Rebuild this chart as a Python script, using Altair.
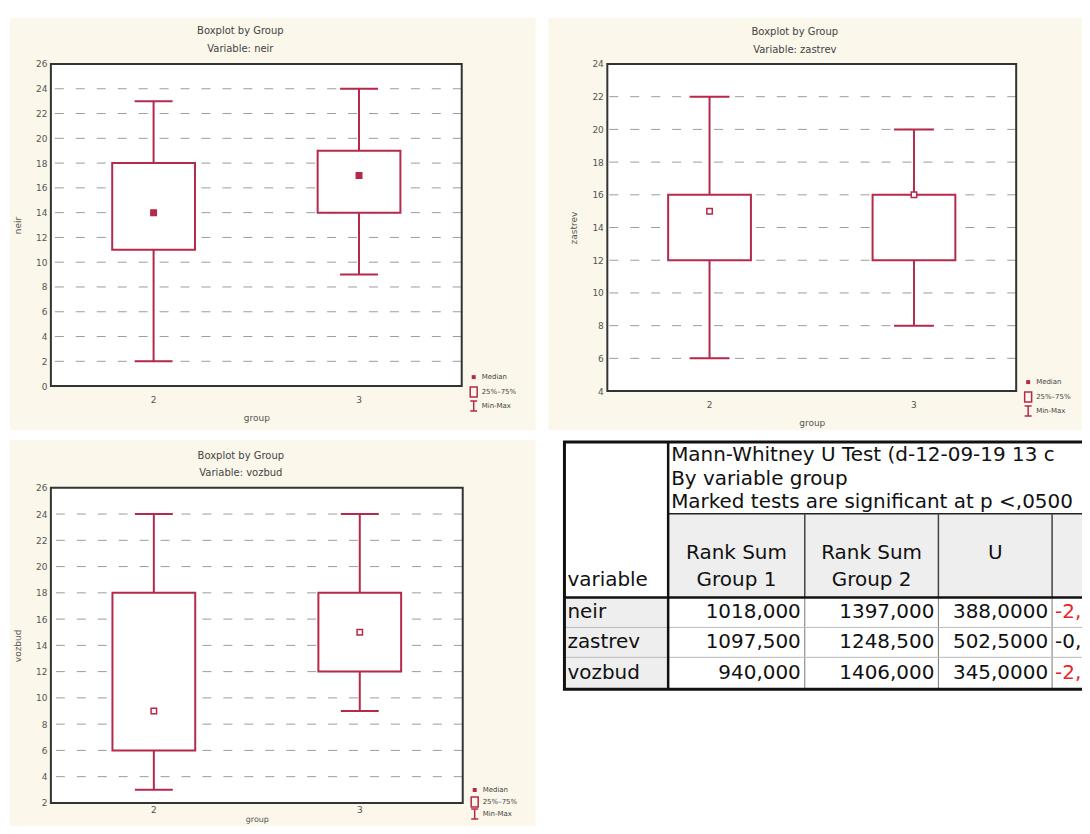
import altair as alt
import pandas as pd

# ---------------- data ----------------
groups = ["2", "3"]

neir_min = [2, 9]
neir_q1 = [11, 14]
neir_median = [14, 17]
neir_q3 = [18, 19]
neir_max = [23, 24]

zastrev_min = [6, 8]
zastrev_q1 = [12, 12]
zastrev_median = [15, 16]
zastrev_q3 = [16, 16]
zastrev_max = [22, 20]

vozbud_min = [3, 9]
vozbud_q1 = [6, 12]
vozbud_median = [9, 15]
vozbud_q3 = [18, 18]
vozbud_max = [24, 24]

neir_ticks = [0, 2, 4, 6, 8, 10, 12, 14, 16, 18, 20, 22, 24, 26]
zastrev_ticks = [4, 6, 8, 10, 12, 14, 16, 18, 20, 22, 24]
vozbud_ticks = [2, 4, 6, 8, 10, 12, 14, 16, 18, 20, 22, 24, 26]

plot_title = "Boxplot by Group"
x_title = "group"
legend_labels = ["Median", "25%–75%", "Min-Max"]

table_title_lines = [
    "Mann-Whitney U Test (d-12-09-19 13 c",
    "By variable group",
    "Marked tests are significant at p <,0500",
]
header_top = ["Rank Sum", "Rank Sum", "U"]
header_bottom = ["Group 1", "Group 2", ""]
stub_header = "variable"
row_vars = ["neir", "zastrev", "vozbud"]
rank_sum_g1 = [1018.0, 1097.5, 940.0]
rank_sum_g2 = [1397.0, 1248.5, 1406.0]
u_values = [388.0, 502.5, 345.0]
z_visible = ["-2,", "-0,", "-2,"]
z_significant = [True, False, True]

# ---------------- style ----------------
FONT = "DejaVu Sans"
CREAM = "#fbf7ea"
RED = "#b5294a"
FRAME = "#333333"
GRID = "#9c9c9c"
TXT = "#555555"


def comma(v, d):
    return f"{v:.{d}f}".replace(".", ",")


def panel(var, mins, q1s, meds, q3s, maxs, ticks, g, median_fill):
    w, h = g["w"], g["h"]
    cx1, cx2, cy1, cy2 = g["cream"]
    df = pd.DataFrame({"group": groups, "vmin": mins, "q1": q1s,
                       "med": meds, "q3": q3s, "vmax": maxs})
    pin = 1 - g["box"] / (w / 2)
    xs = alt.Scale(type="band", domain=groups, paddingInner=pin, paddingOuter=pin / 2)
    ys = alt.Scale(domain=[ticks[0], ticks[-1]], nice=False, zero=False)
    xax = alt.Axis(title=x_title, labelAngle=0, ticks=False, domain=False, grid=False,
                   labelPadding=g["xlp"], titlePadding=g["xtp"], labelFontSize=9,
                   titleFontSize=g["xtfs"],
                   labelColor=TXT, titleColor=TXT, titleFontWeight="normal", zindex=1)
    yax = alt.Axis(title=var, values=ticks, ticks=False, domain=False, grid=False,
                   labelPadding=4, titlePadding=13, labelFontSize=9, titleFontSize=9,
                   labelColor=TXT, titleColor=TXT, titleFontWeight="normal", zindex=1)
    X = alt.X("group:N", scale=xs, axis=xax)

    def Y(f):
        return alt.Y(f"{f}:Q", scale=ys, axis=yax)

    one = alt.Data(values=[{"k": 0}])
    layers = [
        alt.Chart(one).mark_rect(fill=CREAM).encode(
            x=alt.value(cx1), x2=alt.value(cx2), y=alt.value(cy1), y2=alt.value(cy2)),
        alt.Chart(one).mark_rect(fill="white").encode(
            x=alt.value(0), x2=alt.value(w), y=alt.value(0), y2=alt.value(h)),
        alt.Chart(pd.DataFrame({"tick": ticks[1:-1]})).mark_rule(
            color=GRID, strokeWidth=1, strokeDash=[9, 12]).encode(y=Y("tick")),
        alt.Chart(df).mark_rule(color=RED, strokeWidth=2).encode(x=X, y=Y("vmin"), y2="vmax"),
        alt.Chart(df).mark_bar(fill="white", stroke=RED, strokeWidth=2).encode(
            x=X, y=Y("q1"), y2="q3"),
        alt.Chart(df).mark_tick(color=RED, size=g["cap"], thickness=2, opacity=1).encode(
            x=X, y=Y("vmin")),
        alt.Chart(df).mark_tick(color=RED, size=g["cap"], thickness=2, opacity=1).encode(
            x=X, y=Y("vmax")),
        alt.Chart(df).mark_square(size=30, fill=median_fill, stroke=RED, strokeWidth=1.5,
                                  opacity=1).encode(x=X, y=Y("med")),
        alt.Chart(one).mark_rect(fill="transparent", stroke=FRAME, strokeWidth=2).encode(
            x=alt.value(0), x2=alt.value(w), y=alt.value(0), y2=alt.value(h)),
    ]
    # two-line title
    for i, line in enumerate([plot_title, f"Variable: {var}"]):
        layers.append(
            alt.Chart(alt.Data(values=[{"t": line}])).mark_text(fontSize=10, color="#444").encode(
                text="t:N", x=alt.value(w / 2 + g["title_dx"]), y=alt.value(g["title_y"][i])))
    # legend (symbols + labels)
    lx = w + 12
    ly = [h + d for d in g["leg_dy"]]
    layers.append(alt.Chart(one).mark_square(size=16, color=RED, opacity=1).encode(
        x=alt.value(lx), y=alt.value(ly[0])))
    layers.append(alt.Chart(one).mark_point(shape="M-0.7,-1H0.7V1H-0.7Z", size=100, filled=False,
                                            color=RED, strokeWidth=1.5, opacity=1).encode(
        x=alt.value(lx), y=alt.value(ly[1])))
    layers.append(alt.Chart(one).mark_point(shape="M0,-1V1M-0.7,-1H0.7M-0.7,1H0.7", size=100,
                                            filled=False, color=RED, strokeWidth=1.5,
                                            opacity=1).encode(
        x=alt.value(lx), y=alt.value(ly[2])))
    for i, lab in enumerate(legend_labels):
        layers.append(
            alt.Chart(alt.Data(values=[{"t": lab}])).mark_text(align="left", fontSize=7,
                                                               color="#444").encode(
                text="t:N", x=alt.value(lx + 8), y=alt.value(ly[i])))
    return alt.layer(*layers).properties(width=w, height=h)


G1 = dict(w=412, h=323, cream=(-41, 486, -46, 367), box=83, cap=38, title_dx=-16,
          title_y=(-33, -15), leg_dy=(-9, 6, 20), xlp=9, xtp=10, xtfs=9)
G2 = dict(w=410, h=328, cream=(-59, 483, -46, 367), box=83, cap=40, title_dx=-17,
          title_y=(-32, -14), leg_dy=(-9, 6, 20), xlp=9, xtp=10, xtfs=9)
G3 = dict(w=413, h=316, cream=(-41, 486, -48, 348), box=83, cap=38, title_dx=-16,
          title_y=(-32, -15), leg_dy=(-13, -1, 11), xlp=3, xtp=1, xtfs=8)

p1 = panel("neir", neir_min, neir_q1, neir_median, neir_q3, neir_max, neir_ticks, G1, RED)
p2 = panel("zastrev", zastrev_min, zastrev_q1, zastrev_median, zastrev_q3, zastrev_max,
           zastrev_ticks, G2, "white")
p3 = panel("vozbud", vozbud_min, vozbud_q1, vozbud_median, vozbud_q3, vozbud_max,
           vozbud_ticks, G3, "white")

# ---------------- table ----------------
T_W, T_H = 527, 248
T_TOP = -46                      # table top relative to the row's plot origin
COLS = [0, 104, 241, 375, 489, T_W]
TITLE_Y = [13.5, 37, 60.5]
TITLE_SEP = 72
HEAD_Y = [111, 138]
HEAD_SEP = 156
ROW_EDGES = [156, 186, 216, 248]
row_mid = [(ROW_EDGES[i] + ROW_EDGES[i + 1]) / 2 for i in range(3)]

tx = alt.Scale(domain=[0, T_W], range=[0, T_W])
ty = alt.Scale(domain=[0, T_H], range=[T_TOP, T_H + T_TOP])
TX = lambda f: alt.X(f"{f}:Q", scale=tx, axis=None)
TY = lambda f: alt.Y(f"{f}:Q", scale=ty, axis=None)

cells = pd.DataFrame([
    dict(x=COLS[1], x2=T_W, y=TITLE_SEP, y2=HEAD_SEP, f="#eeeeee"),
    dict(x=COLS[0], x2=COLS[1], y=HEAD_SEP, y2=T_H, f="#eeeeee"),
])
cell_layer = alt.Chart(cells).mark_rect().encode(
    x=TX("x"), x2="x2", y=TY("y"), y2="y2", fill=alt.Fill("f:N", scale=None))

lines = []
lines.append(dict(x=COLS[1], x2=T_W, y=TITLE_SEP, y2=TITLE_SEP, c="#222222", sw=1.5))
for cx in COLS[2:5]:
    lines.append(dict(x=cx, x2=cx, y=TITLE_SEP, y2=HEAD_SEP, c="#444444", sw=1.5))
    lines.append(dict(x=cx, x2=cx, y=HEAD_SEP, y2=T_H, c="#777777", sw=1))
for ry in ROW_EDGES[1:3]:
    lines.append(dict(x=0, x2=T_W, y=ry, y2=ry, c="#bbbbbb", sw=1))
lines.append(dict(x=0, x2=T_W, y=HEAD_SEP, y2=HEAD_SEP, c="#111111", sw=2.5))
lines.append(dict(x=COLS[1], x2=COLS[1], y=0, y2=T_H, c="#111111", sw=2.5))
line_layer = alt.Chart(pd.DataFrame(lines)).mark_rule().encode(
    x=TX("x"), x2="x2", y=TY("y"), y2="y2",
    color=alt.Color("c:N", scale=None), strokeWidth=alt.StrokeWidth("sw:Q", scale=None))

border = alt.Chart(pd.DataFrame([dict(x=0, x2=T_W, y=0, y2=T_H)])).mark_rect(
    fill="transparent", stroke="#111111", strokeWidth=3).encode(
    x=TX("x"), x2="x2", y=TY("y"), y2="y2")

left_txt, center_txt, right_txt = [], [], []
for i, line in enumerate(table_title_lines):
    left_txt.append(dict(x=COLS[1] + 3, y=TITLE_Y[i], t=line, c="#111111", s=20))
left_txt.append(dict(x=3, y=HEAD_Y[1], t=stub_header, c="#111111", s=20))
for i in range(3):
    cc = (COLS[i + 1] + COLS[i + 2]) / 2
    center_txt.append(dict(x=cc, y=HEAD_Y[0], t=header_top[i], c="#111111", s=20))
    if header_bottom[i]:
        center_txt.append(dict(x=cc, y=HEAD_Y[1], t=header_bottom[i], c="#111111", s=20))
for r in range(3):
    left_txt.append(dict(x=3, y=row_mid[r], t=row_vars[r], c="#111111", s=20))
    right_txt.append(dict(x=COLS[2] - 4, y=row_mid[r], t=comma(rank_sum_g1[r], 3), c="#111111", s=20))
    right_txt.append(dict(x=COLS[3] - 4, y=row_mid[r], t=comma(rank_sum_g2[r], 3), c="#111111", s=20))
    right_txt.append(dict(x=COLS[4] - 4, y=row_mid[r], t=comma(u_values[r], 4), c="#111111", s=20))
    left_txt.append(dict(x=COLS[4] + 3, y=row_mid[r], t=z_visible[r],
                         c="#e8262a" if z_significant[r] else "#111111", s=20))


def text_layer(rows, align):
    return alt.Chart(pd.DataFrame(rows)).mark_text(align=align, baseline="middle").encode(
        x=TX("x"), y=TY("y"), text="t:N",
        color=alt.Color("c:N", scale=None), size=alt.Size("s:Q", scale=None))


table = alt.layer(cell_layer, line_layer, border,
                  text_layer(left_txt, "left"), text_layer(center_txt, "center"),
                  text_layer(right_txt, "right")).properties(width=T_W, height=T_H + T_TOP)

row1 = alt.hconcat(p1, p2, spacing=13)
row2 = alt.hconcat(p3, table, spacing=27)
chart = alt.vconcat(row1, row2, spacing=10).properties(
    padding={"left": 2, "top": 9, "right": -10, "bottom": -10}, background="white"
).configure(font=FONT).configure_view(strokeWidth=0)

chart.save("out.html", embed_options={"renderer": "svg", "actions": False})
